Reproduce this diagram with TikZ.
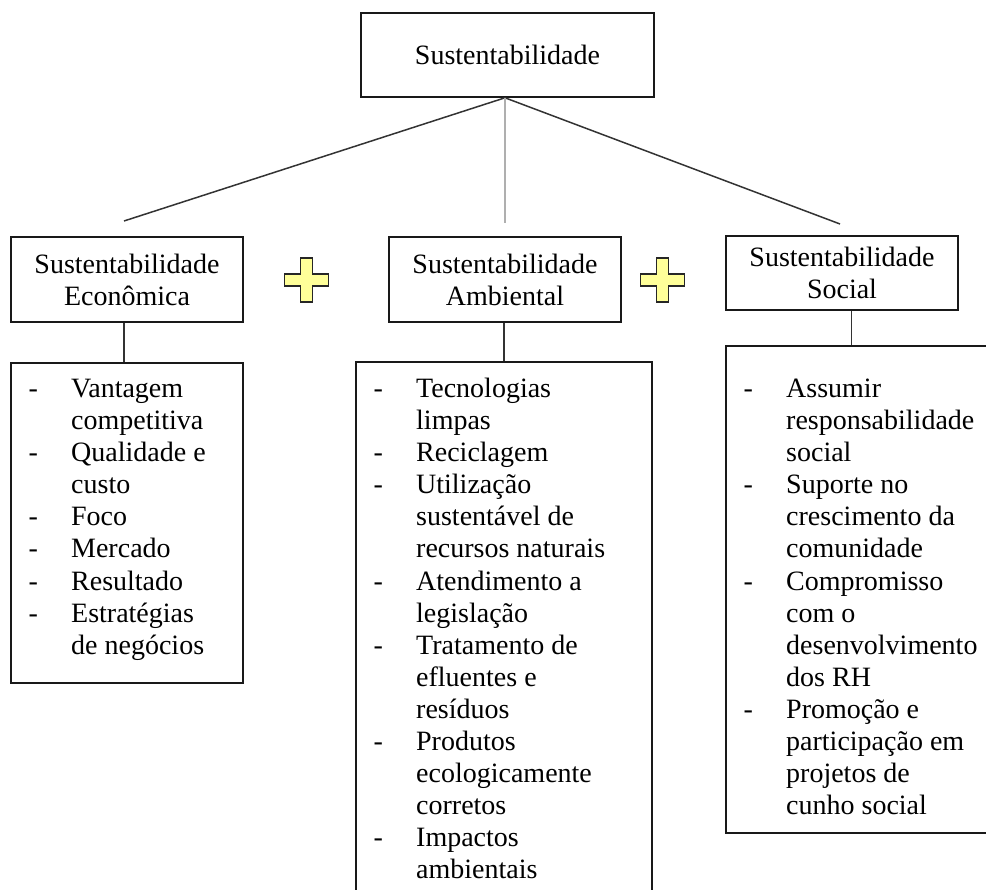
\documentclass[tikz,border=0pt]{standalone}
\usepackage{fontspec}
\setmainfont{Liberation Serif}
\definecolor{plusyellow}{RGB}{255,255,153}
\definecolor{lightline}{RGB}{175,175,175}
\newcommand\di{\makebox[42.5pt][l]{-}}
\newcommand\dc{\hspace*{42.5pt}}
\newcommand\listtext[1]{\parbox[t]{320pt}{\fontsize{28}{32.1}\selectfont\raggedright #1}}
\begin{document}
\begin{tikzpicture}[x=1pt,y=-1pt,
  hbox/.style={draw=black!90, line width=1.6pt, inner sep=0pt, rectangle, align=center,
    font=\fontsize{28}{32.1}\selectfont},
  lbox/.style={draw=black!90, line width=1.6pt, inner sep=0pt, rectangle},
  ltext/.style={anchor=base west, inner sep=0pt},
  conn/.style={draw=black!80, line width=1.5pt},
  grayconn/.style={draw=lightline, line width=2.6pt},
  plusst/.style={fill=plusyellow, draw=black!85, line width=1.4pt, line join=miter}]
\useasboundingbox (0,0) rectangle (986,890);
\clip (0,0) rectangle (986,890);

% header boxes
\node[hbox, minimum width=293pt, minimum height=84pt] (top) at (507.5,55) {Sustentabilidade};
\node[hbox, minimum width=232pt, minimum height=85pt] (econh) at (127,279.5) {Sustentabilidade\\Econômica};
\node[hbox, minimum width=232pt, minimum height=85pt] (ambh) at (505,279.5) {Sustentabilidade\\Ambiental};
\node[hbox, minimum width=232pt, minimum height=74pt] (soch) at (842,273) {Sustentabilidade\\Social};

% list boxes
\node[lbox, minimum width=232pt, minimum height=320pt] (econl) at (127,523) {};
\node[lbox, minimum width=296pt, minimum height=560pt] (ambl) at (504,642) {};
\node[lbox, minimum width=290pt, minimum height=487pt] (socl) at (871,589.5) {};

% list texts
\node[ltext] (econt) at (28.5,397.5) {\listtext{%
\di Vantagem\\ \dc competitiva\\
\di Qualidade e\\ \dc custo\\
\di Foco\\
\di Mercado\\
\di Resultado\\
\di Estratégias\\ \dc de negócios}};

\node[ltext] (ambt) at (373.5,397.5) {\listtext{%
\di Tecnologias\\ \dc limpas\\
\di Reciclagem\\
\di Utilização\\ \dc sustentável de\\ \dc recursos naturais\\
\di Atendimento a\\ \dc legislação\\
\di Tratamento de\\ \dc efluentes e\\ \dc resíduos\\
\di Produtos\\ \dc ecologicamente\\ \dc corretos\\
\di Impactos\\ \dc ambientais}};

\node[ltext] (soct) at (743.5,397.5) {\listtext{%
\di Assumir\\ \dc responsabilidade\\ \dc social\\
\di Suporte no\\ \dc crescimento da\\ \dc comunidade\\
\di Compromisso\\ \dc com o\\ \dc desenvolvimento\\ \dc dos RH\\
\di Promoção e\\ \dc participação em\\ \dc projetos de\\ \dc cunho social}};

% connectors from top box
\coordinate (lend) at (124,221);
\coordinate (mend) at (505,223);
\coordinate (rend) at (840,224);
\coordinate (sx) at (851.5,0);
\draw[conn] (top.south -| ambh.north) -- (lend);
\draw[conn] (top.south -| ambh.north) -- (rend);
\draw[grayconn] (top.south -| ambh.north) -- (mend);

% vertical connectors
\draw[conn] (econh.south -| lend) -- (econl.north -| lend);
\draw[conn] (ambh.south -| ambl.north) -- (ambl.north);
\draw[conn] (soch.south -| sx) -- (socl.north -| sx);

% plus signs
\draw[plusst, shift={(306.5,280)}] (-6,-22) -- (6,-22) -- (6,-6) -- (22,-6) -- (22,6) -- (6,6) -- (6,22) -- (-6,22) -- (-6,6) -- (-22,6) -- (-22,-6) -- (-6,-6) -- cycle;
\draw[plusst, shift={(662.5,280)}] (-6,-22) -- (6,-22) -- (6,-6) -- (22,-6) -- (22,6) -- (6,6) -- (6,22) -- (-6,22) -- (-6,6) -- (-22,6) -- (-22,-6) -- (-6,-6) -- cycle;
\end{tikzpicture}
\end{document}
